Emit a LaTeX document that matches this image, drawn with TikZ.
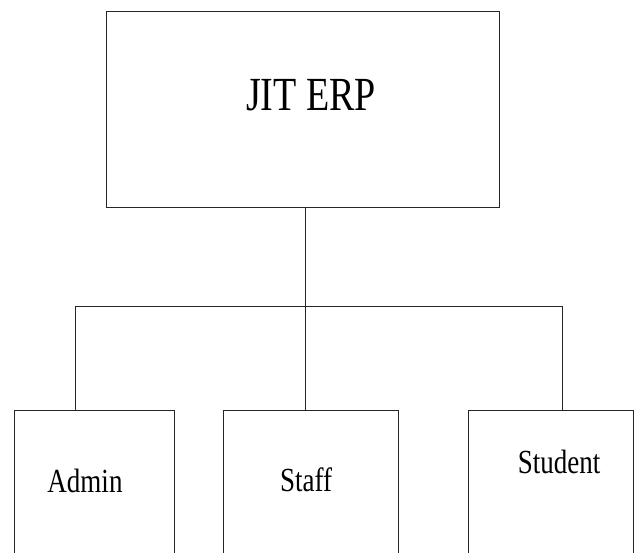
\documentclass[tikz,border=0pt]{standalone}
\usepackage{fontspec}
\setmainfont{Liberation Serif}
\usepackage{graphicx}
\begin{document}
\begin{tikzpicture}[x=1pt,y=-1pt,
  box/.style={draw=black!85,line width=1pt,rectangle,inner sep=0pt},
  conn/.style={draw=black!85,line width=1pt},
  small/.style={font=\fontsize{27}{30}\selectfont,inner sep=0pt,anchor=base},
  big/.style={font=\fontsize{38}{42}\selectfont,inner sep=0pt,anchor=base}]
\clip (0,0) rectangle (639,553);
\fill[white] (0,0) rectangle (639,553);
\node[box,minimum width=393pt,minimum height=196pt] (top) at (302.5,110) {};
\node[box,minimum width=160pt,minimum height=200pt] (admin) at (94,510) {};
\node[box,minimum width=175pt,minimum height=200pt] (staff) at (310.5,510) {};
\node[box,minimum width=165pt,minimum height=200pt] (student) at (550.5,510) {};
\node[big] (ttop) at (311,111) {\scalebox{1}[1.25]{JIT ERP}};
\node[small] (tadmin) at (85,492) {\scalebox{1}[1.25]{Admin}};
\node[small] (tstaff) at (306,491) {\scalebox{1}[1.25]{Staff}};
\node[small] (tstudent) at (559,473) {\scalebox{1}[1.25]{Student}};
\coordinate (j) at (305,306);
\coordinate (hl) at (75,306);
\coordinate (hr) at (562,306);
\draw[conn] (j |- top.south) -- (j |- staff.north);
\draw[conn] (hl |- admin.north) -- (hl) -- (hr) -- (hr |- student.north);
\end{tikzpicture}
\end{document}
